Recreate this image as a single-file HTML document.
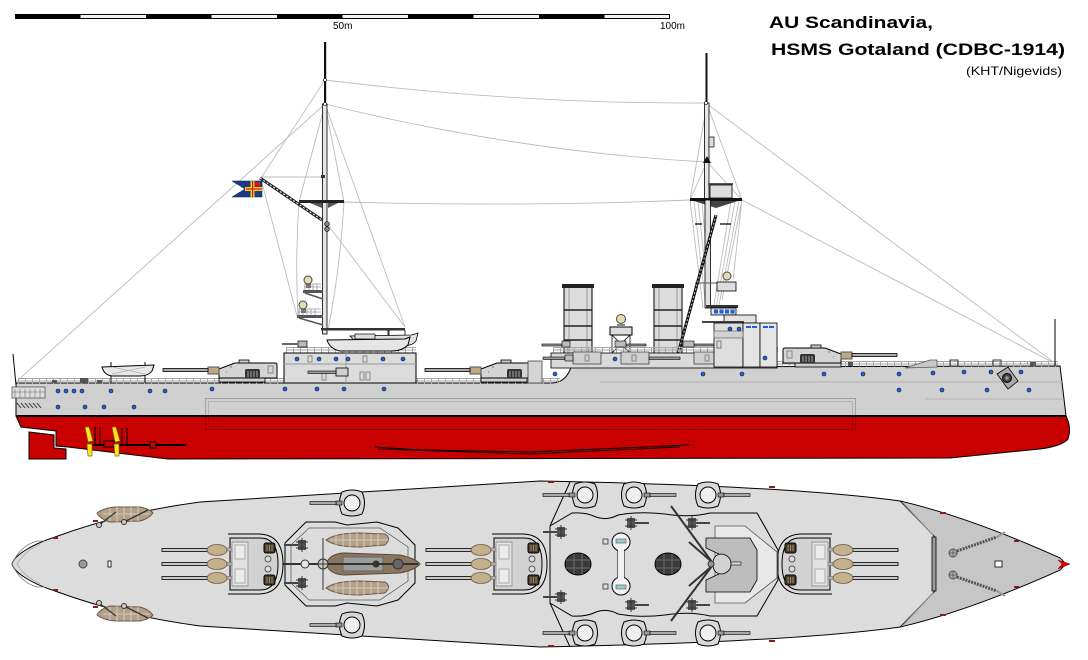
<!DOCTYPE html>
<html><head><meta charset="utf-8"><style>
html,body{margin:0;padding:0;background:#fff;}
svg{display:block}
</style></head><body>
<svg width="1088" height="660" viewBox="0 0 1088 660" xmlns="http://www.w3.org/2000/svg" font-family="'Liberation Sans', Arial, sans-serif">
<defs>
 <g id="tTop">
  <path d="M22,-30 L-8,-30 Q-33,-30 -33,0 Q-33,30 -8,30 L22,30" fill="#dcdcdc" stroke="#000"/>
  <path d="M20,-26 L-10,-26 Q-28,-26 -28,0 Q-28,26 -10,26 L20,26 Z" fill="#d2d2d2" stroke="#000"/>
  <rect x="2" y="-22" width="16" height="44" fill="#e2e2e2" stroke="#999"/>
  <rect x="5" y="-19" width="10" height="14" fill="#ececec" stroke="#aaa"/>
  <rect x="5" y="5" width="10" height="14" fill="#ececec" stroke="#aaa"/>
  <rect x="-25" y="-21" width="11" height="10" rx="2" fill="#4a3c2c" stroke="#000"/>
  <rect x="-25" y="11" width="11" height="10" rx="2" fill="#4a3c2c" stroke="#000"/>
  <path d="M-22,-19v6M-19.5,-19v6M-17,-19v6M-22,13v6M-19.5,13v6M-17,13v6" stroke="#a08a70"/>
  <circle cx="-18" cy="-5" r="3" fill="#ddd" stroke="#555"/>
  <circle cx="-18" cy="5" r="3" fill="#ddd" stroke="#555"/>
  <g fill="#b0b0b0" stroke="#777" stroke-width=".6">
   <rect x="18" y="-16" width="8" height="3"/><rect x="18" y="-1.5" width="8" height="3"/><rect x="18" y="12.5" width="8" height="3"/>
  </g>
  <g fill="#c9c9c9" stroke="#000" stroke-width=".8">
   <rect x="42" y="-15.5" width="46" height="3"/><rect x="42" y="-1.5" width="46" height="3"/><rect x="42" y="12.5" width="46" height="3"/>
  </g>
  <g fill="#c4b08c" stroke="#6a5a40" stroke-width=".8">
   <ellipse cx="33" cy="-14" rx="10" ry="5.5"/><ellipse cx="33" cy="0" rx="10" ry="5.5"/><ellipse cx="33" cy="14" rx="10" ry="5.5"/>
  </g>
 </g>
 <g id="tSide">
  <rect x="12" y="14" width="46" height="5" fill="#cfcfcf" stroke="#000" stroke-width=".8"/>
  <path d="M0,2 Q0,0 2,0 L42,0 L58,6 L58,15 L0,15 Z" fill="#d4d4d4" stroke="#000"/>
  <rect x="28" y="-3" width="10" height="3" fill="#ccc" stroke="#000" stroke-width=".8"/>
  <rect x="17" y="6" width="15" height="9" rx="2" fill="#333"/>
  <path d="M20,8v6M23,8v6M26,8v6M29,8v6" stroke="#aaa"/>
  <rect x="4" y="3" width="5" height="7" fill="none" stroke="#888"/>
  <path d="M45,4h2M50,9h1" stroke="#777"/>
  <rect x="58" y="4" width="11" height="7" fill="#bca884" stroke="#555"/>
  <rect x="69" y="5.5" width="45" height="3" fill="#aaa" stroke="#000" stroke-width=".8"/>
 </g>
 <g id="cm">
  <path d="M-10,-11 Q0,-15 10,-11 Q15,0 10,11 Q0,15 -10,11 Q-15,0 -10,-11Z" fill="#d8d8d8" stroke="#000"/>
  <circle r="8" fill="#efefef" stroke="#000"/>
  <rect x="10" y="-2" width="6" height="4" fill="#999" stroke="#000" stroke-width=".6"/>
  <rect x="16" y="-1.5" width="26" height="3" fill="#aaa" stroke="#000" stroke-width=".6"/>
 </g>
 <g id="aa">
  <rect x="-4" y="-5" width="8" height="10" fill="#555"/>
  <path d="M-6,-3h12M-6,3h12M0,-7v14" stroke="#333"/>
  <rect x="4" y="-1" width="14" height="2" fill="#444"/>
 </g>
 <g id="porth"><circle r="2" fill="#1f5fd8" stroke="#123" stroke-width=".6"/></g>
</defs>

<!-- Scale bar -->
<rect x="15" y="14" width="655" height="5" fill="#000"/>
<g fill="#f2f2f2">
 <rect x="80.5" y="15" width="65.5" height="3"/><rect x="211.5" y="15" width="65.5" height="3"/>
 <rect x="342.5" y="15" width="65.5" height="3"/><rect x="473.5" y="15" width="65.5" height="3"/>
 <rect x="604.5" y="15" width="64.5" height="3"/>
</g>
<text x="333" y="29" font-size="10" fill="#000">50m</text>
<text x="660" y="29" font-size="10" fill="#000">100m</text>

<!-- Title -->
<text x="769" y="28" font-size="17" font-weight="bold" textLength="164" lengthAdjust="spacingAndGlyphs">AU Scandinavia,</text>
<text x="771" y="55" font-size="17" font-weight="bold" textLength="294" lengthAdjust="spacingAndGlyphs">HSMS Gotaland (CDBC-1914)</text>
<text x="966" y="75" font-size="12" textLength="96" lengthAdjust="spacingAndGlyphs">(KHT/Nigevids)</text>

<!-- ================= SIDE VIEW ================= -->
<!-- rigging -->
<g stroke="#bcbcbc" stroke-width=".9" fill="none">
 <path d="M325,104 L16,382"/>
 <path d="M325,80 Q520,104 706,103"/>
 <path d="M325,104 Q520,152 706,162"/>
 <path d="M344,202 Q520,207 690,200"/>
 <path d="M707,104 L1052,361"/>
 <path d="M742,200 L1052,362"/>
 <path d="M325,104 L299,202 M325,104 L344,202"/>
 <path d="M299,202 Q295,260 298,316"/>
 <path d="M344,202 Q340,270 328,330"/>
 <path d="M325,80 L261,178"/>
 <path d="M261,179 L297,316"/>
 <path d="M325,104 L405,327"/>
 <path d="M328,225 L405,327"/>
 <path d="M262,177 L322,177"/>
 <path d="M707,104 L690,200 M707,104 L742,200 M707,162 L690,200 M707,162 L742,200"/>
 <path d="M690,200 L703,308 M694,201 L706,308 M698,201 L709,305 M702,201 L710,300 M742,200 L722,300 M739,201 L719,305 M735,201 L716,308 M731,201 L714,305 M742,200 L733,280"/>
</g>

<!-- funnels (behind) -->
<g>
 <rect x="564" y="286" width="28" height="70" fill="#dcdcdc" stroke="#000"/>
 <path d="M569,288V356M587,288V356" stroke="#9a9a9a"/>
 <rect x="562" y="284" width="32" height="4" fill="#222"/>
 <path d="M564,310H592M564,326H592M564,340H592" stroke="#222" stroke-width="1.5"/>
 <rect x="654" y="286" width="28" height="70" fill="#dcdcdc" stroke="#000"/>
 <path d="M659,288V356M677,288V356" stroke="#9a9a9a"/>
 <rect x="652" y="284" width="32" height="4" fill="#222"/>
 <path d="M654,310H682M654,326H682M654,340H682" stroke="#222" stroke-width="1.5"/>
</g>

<!-- searchlight tower between funnels -->
<g>
 <path d="M612,335 L630,353 M630,335 L612,353 M612,335V353M630,335V353" stroke="#333"/>
 <rect x="610" y="327" width="22" height="8" fill="#ddd" stroke="#000"/>
 <rect x="617" y="324" width="8" height="3" fill="#888"/>
 <circle cx="621" cy="319" r="4.5" fill="#e2dcb0" stroke="#444"/>
</g>

<!-- foremast -->
<g>
 <rect x="705.5" y="53" width="2" height="50" fill="#111"/>
 <rect x="704.5" y="103" width="4.5" height="96" fill="#e6e6e6" stroke="#000" stroke-width=".8"/>
 <rect x="709" y="137" width="5" height="10" fill="#ddd" stroke="#000" stroke-width=".7"/>
 <path d="M703,163 L707,156 L711,163Z" fill="#111"/>
 <circle cx="706" cy="103" r="1.5" fill="#fff" stroke="#000" stroke-width=".6"/>
 <rect x="708" y="183" width="25" height="2" fill="#555"/>
 <rect x="710" y="185" width="22" height="13" fill="#dedede" stroke="#000" stroke-width=".8"/>
 <rect x="690" y="198" width="52" height="3" fill="#111"/>
 <path d="M694,201 L738,201 L716,208Z" fill="#444"/>
 <rect x="705" y="200" width="5.5" height="108" fill="#e0e0e0" stroke="#000" stroke-width=".8"/>
 <path d="M695,224H702M720,224H731" stroke="#000" stroke-width="1.2"/>
 <path d="M695,283H717" stroke="#555"/>
 <rect x="717" y="282" width="19" height="9" fill="#ddd" stroke="#000" stroke-width=".8"/>
 <circle cx="727" cy="276" r="4" fill="#e2dcb0" stroke="#444"/>
 <!-- tripod leg -->
 <path d="M716,215 L670,383" stroke="#111" stroke-width="3"/>
 <path d="M716,215 L670,383" stroke="#ccc" stroke-width="1" stroke-dasharray="2 2"/>
</g>

<!-- mainmast -->
<g>
 <rect x="324" y="42" width="2.2" height="62" fill="#111"/>
 <rect x="322.5" y="104" width="4.5" height="230" fill="#e6e6e6" stroke="#000" stroke-width=".8"/>
 <circle cx="325" cy="80" r="1.5" fill="#fff" stroke="#000" stroke-width=".6"/>
 <circle cx="325" cy="104" r="1.5" fill="#fff" stroke="#000" stroke-width=".6"/>
 <rect x="321" y="175" width="4" height="3" fill="#333"/>
 <rect x="299" y="200" width="45" height="3" fill="#222"/>
 <path d="M310,203 L322,203 L322,208Z M328,203 L338,203 L328,208Z" fill="#555"/>
 <!-- gaff -->
 <path d="M260,178 L322,220" stroke="#222" stroke-width="3"/>
 <path d="M260,178 L322,220" stroke="#fff" stroke-width="1" stroke-dasharray="2 2"/>
 <circle cx="327" cy="224" r="2.3" fill="#888" stroke="#000" stroke-width=".7"/>
 <circle cx="327" cy="229" r="2.3" fill="#888" stroke="#000" stroke-width=".7"/>
 <!-- flag -->
 <path d="M262,181 L232,181 L245,189 L232,197 L262,197Z" fill="#1c3a86" stroke="#0a1a4a" stroke-width=".5"/>
 <rect x="250.5" y="181" width="4" height="16" fill="#f3d21a"/>
 <rect x="245" y="187" width="17" height="4" fill="#f3d21a"/>
 <rect x="252" y="181" width="1.2" height="16" fill="#d8141a"/>
 <rect x="246" y="188.4" width="16" height="1.2" fill="#d8141a"/>
 <rect x="255" y="182" width="5" height="4.5" fill="#d8141a"/>
 <!-- searchlight platforms -->
 <g stroke="#999" stroke-width=".8" fill="none">
  <path d="M304,284H321M304,287H321M305,284v6M309,284v6M313,284v6M317,284v6"/>
  <path d="M298,309H321M298,312H321M299,309v6M303,309v6M307,309v6M311,309v6M315,309v6"/>
 </g>
 <rect x="303" y="290" width="20" height="3" fill="#555"/>
 <path d="M305,293 L323,299" stroke="#555" stroke-width="1.5"/>
 <rect x="297" y="315" width="26" height="3" fill="#555"/>
 <path d="M299,318 L323,325" stroke="#555" stroke-width="1.5"/>
 <rect x="306" y="284" width="5" height="4" fill="#777"/>
 <circle cx="308" cy="280" r="4" fill="#e2dcb0" stroke="#444"/>
 <rect x="301" y="309" width="5" height="4" fill="#777"/>
 <circle cx="303" cy="305" r="4" fill="#e2dcb0" stroke="#444"/>
 <!-- boom -->
 <rect x="321" y="328" width="84" height="2.5" fill="#333"/>
 <rect x="387.5" y="330" width="2" height="8" fill="#333"/>
 <path d="M405,330 v6" stroke="#333"/>
</g>

<!-- hull side -->
<path d="M16,383 L551,383 Q566,383 571,367 L1060,366 Q1063,390 1066,416 L16,416 Z" fill="#d0d0d0" stroke="#000"/>
<path d="M600,382H1062M925,399H1062" stroke="#b4b4b4"/>
<!-- red underbody -->
<path d="M16,416 L1066,416 Q1072,428 1068,439 Q1062,446 1040,449 L950,458 L168,459 L68,447 L56,446 L56,431 L21,427 Z" fill="#c80000" stroke="#000"/>
<path d="M29,432 L54,435 L54,448 L66,449 L66,459 L29,459 Z" fill="#c80000" stroke="#000"/>
<path d="M16,416 H1066" stroke="#000" stroke-width="2"/>
<!-- belt outline -->
<rect x="205.5" y="398.5" width="650" height="31" fill="none" stroke="#000" stroke-opacity=".22"/>
<rect x="208.5" y="401.5" width="644" height="25" fill="none" stroke="#000" stroke-opacity=".14"/>
<!-- bilge keel -->
<path d="M375,447 L420,450 L530,452 L690,445 M378,449 L530,454 L680,447" stroke="#000" fill="none" stroke-width=".9"/>
<!-- shafts & props -->
<g stroke="#000" fill="none">
 <path d="M92,445 H186" stroke-width="2"/>
 <path d="M95,427 V445 M100,427 V445 M122,428 V445 M127,428 V445" stroke-width="1"/>
 <rect x="104" y="441" width="10" height="6" fill="#c80000"/>
 <rect x="150" y="442" width="6" height="6" fill="#c80000"/>
</g>
<g fill="#ffe61a" stroke="#7a6a00" stroke-width=".7">
 <path d="M85,427 L89,427 L93,441 L88,442 Z M87,444 L92,444 L92,456 L88,456 Z"/>
 <path d="M112,427 L116,427 L120,441 L115,442 Z M114,444 L119,444 L119,456 L115,456 Z"/>
</g>

<!-- stern gallery & staff -->
<path d="M13,354 L16,385" stroke="#000"/>
<rect x="12" y="387" width="33" height="11" fill="#dedede" stroke="#555" stroke-width=".8"/>
<path d="M15,389V398M20,389V398M25,389V398M30,389V398M35,389V398M40,389V398M12,392H45" stroke="#888" stroke-width=".8"/>
<path d="M17,403l4,5M21,403l4,5M25,403l4,5M29,403l4,5M33,403l4,5M37,403l4,5" stroke="#333"/>

<!-- railings -->
<g stroke="#a6a6a6" fill="none">
 <path d="M18,378.5H560M18,381H560"/>
 <path d="M18,381H560" stroke-width="5" stroke-dasharray="1 6"/>
 <path d="M572,361.5H1058M572,364H1058"/>
 <path d="M572,364H1058" stroke-width="5" stroke-dasharray="1 6"/>
 <path d="M286,347.5H416M286,350H416"/>
 <path d="M286,350H416" stroke-width="5" stroke-dasharray="1 6"/>
 <path d="M553,347.5H778M553,350H778"/>
 <path d="M553,350H778" stroke-width="5" stroke-dasharray="1 6"/>
</g>

<!-- small fittings on decks -->
<g fill="#555">
 <rect x="80" y="378" width="8" height="5"/><rect x="52" y="380" width="5" height="3"/><rect x="97" y="380" width="5" height="3"/>
 <rect x="950" y="360" width="8" height="6" fill="none" stroke="#333"/><rect x="993" y="360" width="8" height="6" fill="none" stroke="#333"/>
 <rect x="848" y="362" width="5" height="4"/><rect x="1030" y="362" width="6" height="4"/>
</g>
<path d="M905,368 L930,360 L937,360 L937,367Z" fill="#c8c8c8" stroke="#555" stroke-width=".8"/>

<!-- aft boat -->
<path d="M111,362V383M145,362V383" stroke="#333" stroke-width="1.2"/>
<path d="M102,367 L154,365 L152,371 Q148,376 140,376 L112,376 Q104,375 102,367 Z" fill="#e8e8e8" stroke="#000"/>
<path d="M112,367 L145,374 M112,374 L145,367" stroke="#aaa" stroke-width=".7"/>

<!-- turrets side -->
<use href="#tSide" transform="translate(277,363) scale(-1,1)"/>
<use href="#tSide" transform="translate(539,363) scale(-1,1)"/>
<use href="#tSide" transform="translate(783,348)"/>

<!-- aft superstructure -->
<rect x="284" y="353" width="132" height="30" fill="#dcdcdc" stroke="#000"/>
<path d="M284,364H416M346,353V383" stroke="#999"/>
<g fill="none" stroke="#777" stroke-width=".8">
 <rect x="308" y="356" width="4" height="6"/><rect x="363" y="356" width="4" height="6"/>
 <rect x="322" y="372" width="4" height="8"/><rect x="360" y="372" width="4" height="8"/><rect x="366" y="372" width="4" height="8"/>
</g>
<rect x="336" y="368" width="12" height="8" fill="#d0d0d0" stroke="#000" stroke-width=".8"/>
<rect x="308" y="371" width="28" height="2.5" fill="#999" stroke="#000" stroke-width=".6"/>
<rect x="298" y="341" width="9" height="6" fill="#bbb" stroke="#000" stroke-width=".7"/>
<rect x="282" y="343" width="16" height="2" fill="#666"/>
<!-- boats on aft superstructure -->
<path d="M350,336 L412,335 L418,333 L416,341 Q412,346 402,346 L360,346 Z" fill="#e2e2e2" stroke="#000" stroke-width=".8"/>
<path d="M327,340 L405,339 L410,337 L408,345 Q402,351 392,351 L340,351 Q330,349 327,340 Z" fill="#e6e6e6" stroke="#000"/>
<rect x="355" y="334" width="20" height="5" fill="#ddd" stroke="#000" stroke-width=".7"/>

<!-- midship deckhouse -->
<rect x="528" y="361" width="14" height="22" fill="#d4d4d4" stroke="#444" stroke-width=".8"/>
<rect x="551" y="353" width="226" height="15" fill="#dadada" stroke="#000" stroke-width=".8"/>
<g fill="#d0d0d0" stroke="#444" stroke-width=".8">
 <rect x="573" y="352" width="28" height="12"/><rect x="621" y="352" width="28" height="12"/><rect x="694" y="352" width="28" height="12"/>
</g>
<g fill="none" stroke="#777" stroke-width=".8">
 <rect x="585" y="355" width="4" height="6"/><rect x="632" y="355" width="4" height="6"/><rect x="705" y="355" width="4" height="6"/><rect x="760" y="356" width="4" height="7"/>
</g>
<g fill="#999" stroke="#000" stroke-width=".6">
 <rect x="543" y="357" width="22" height="2.5"/><rect x="565" y="355" width="8" height="6" fill="#bbb"/>
 <rect x="649" y="357" width="31" height="2.5"/>
 <rect x="722" y="357" width="30" height="2.5"/>
 <rect x="542" y="344" width="20" height="2"/><rect x="562" y="341" width="8" height="6" fill="#bbb"/>
 <rect x="626" y="344" width="20" height="2"/><rect x="615" y="341" width="11" height="6" fill="#bbb"/>
 <rect x="694" y="344" width="20" height="2"/><rect x="683" y="341" width="11" height="6" fill="#bbb"/>
</g>

<!-- bridge -->
<rect x="706" y="305" width="32" height="3" fill="#333"/>
<rect x="711" y="308" width="25" height="7" fill="#e2e2e2" stroke="#000" stroke-width=".8"/>
<g fill="#1f5fd8"><rect x="714" y="309.5" width="4" height="4"/><rect x="719.5" y="309.5" width="4" height="4"/><rect x="725" y="309.5" width="4" height="4"/><rect x="730.5" y="309.5" width="4" height="4"/></g>
<rect x="724" y="315" width="32" height="8" fill="#e2e2e2" stroke="#000" stroke-width=".8"/>
<rect x="702" y="321" width="42" height="2" fill="#444"/>
<rect x="714" y="323" width="29" height="44" fill="#dedede" stroke="#000" stroke-width=".8"/>
<rect x="743" y="323" width="17" height="44" fill="#e4e4e4" stroke="#000" stroke-width=".8"/>
<rect x="760" y="323" width="17" height="44" fill="#e4e4e4" stroke="#000" stroke-width=".8"/>
<g fill="#1f5fd8"><rect x="746" y="326" width="5" height="2"/><rect x="752" y="326" width="5" height="2"/><rect x="763" y="326" width="5" height="2"/><rect x="769" y="326" width="5" height="2"/></g>
<rect x="714" y="331" width="29" height="7" fill="#d2d2d2" stroke="#666" stroke-width=".7"/>
<rect x="717" y="341" width="4" height="7" fill="none" stroke="#777"/>

<!-- portholes -->
<g>
 <use href="#porth" x="58" y="391"/><use href="#porth" x="66" y="391"/><use href="#porth" x="74" y="391"/><use href="#porth" x="82" y="391"/>
 <use href="#porth" x="111" y="391"/><use href="#porth" x="150" y="391"/><use href="#porth" x="165" y="391"/><use href="#porth" x="212" y="389"/>
 <use href="#porth" x="285" y="389"/><use href="#porth" x="317" y="389"/><use href="#porth" x="344" y="389"/><use href="#porth" x="384" y="389"/>
 <use href="#porth" x="58" y="407"/><use href="#porth" x="85" y="407"/><use href="#porth" x="104" y="407"/><use href="#porth" x="134" y="407"/>
 <use href="#porth" x="555" y="374"/><use href="#porth" x="703" y="374"/><use href="#porth" x="742" y="374"/><use href="#porth" x="824" y="374"/>
 <use href="#porth" x="863" y="374"/><use href="#porth" x="899" y="374"/><use href="#porth" x="933" y="373"/><use href="#porth" x="964" y="372"/>
 <use href="#porth" x="991" y="372"/><use href="#porth" x="1021" y="372"/>
 <use href="#porth" x="899" y="390"/><use href="#porth" x="942" y="390"/><use href="#porth" x="987" y="390"/><use href="#porth" x="1029" y="390"/>
 <use href="#porth" x="297" y="359"/><use href="#porth" x="319" y="359"/><use href="#porth" x="336" y="359"/><use href="#porth" x="348" y="359"/>
 <use href="#porth" x="383" y="359"/><use href="#porth" x="403" y="359"/>
 <use href="#porth" x="615" y="359"/><use href="#porth" x="765" y="358"/><use href="#porth" x="730" y="329"/><use href="#porth" x="739" y="329"/>
</g>
<!-- anchor hawse side -->
<path d="M997,374 L1008,367 L1018,381 L1008,389 Z" fill="#aaa" stroke="#000" stroke-width=".8"/>
<circle cx="1007" cy="378" r="4.5" fill="#444" stroke="#000"/>
<circle cx="1007" cy="378" r="1.8" fill="#999"/>
<!-- jackstaff -->
<path d="M1055,319 V366" stroke="#000"/>

<!-- ================= TOP VIEW ================= -->
<path d="M12,564 C14,556 30,545 55,537 C90,524 140,510 200,502 L540,481 C700,484 820,490 900,501 C960,515 1020,540 1060,558 L1066,564 L1060,570 C1020,588 960,613 900,627 C820,638 700,644 540,647 L200,626 C140,618 90,604 55,591 C30,583 14,572 12,564 Z" fill="#dcdcdc" stroke="#000"/>
<!-- stern walk -->
<path d="M12,564 Q20,546 37,541 L45,541 M12,564 Q20,582 37,587 L45,587" fill="none" stroke="#777" stroke-width=".8"/>
<path d="M17,564 Q24,552 40,544 M17,564 Q24,576 40,584" fill="none" stroke="#aaa" stroke-width=".8"/>
<!-- bow dark region -->
<path d="M900,501 L935,537 L935,591 L900,627 C960,613 1020,588 1060,570 L1066,564 L1060,558 C1020,540 960,515 900,501 Z" fill="#c6c6c6" stroke="#000" stroke-width=".8"/>
<rect x="932" y="537" width="4" height="54" fill="#9a9a9a" stroke="#000" stroke-width=".8"/>
<path d="M903,503 L933,535 M903,625 L933,593" stroke="#888"/>
<!-- anchors -->
<path d="M957,551 L997,537 M957,577 L997,591" stroke="#555" stroke-width="3" stroke-dasharray="2 1"/>
<path d="M997,537 L1005,532 M997,591 L1005,596" stroke="#999" stroke-width="2"/>
<circle cx="953" cy="553" r="4" fill="#aaa" stroke="#555"/>
<circle cx="953" cy="575" r="4" fill="#aaa" stroke="#555"/>
<path d="M949,553h8M953,549v8M949,575h8M953,571v8" stroke="#555" stroke-width=".7"/>
<rect x="995" y="561" width="7" height="6" fill="#fff" stroke="#000" stroke-width=".8"/>
<path d="M1058,560 L1070,564 L1058,569 L1062,564Z" fill="#e00000" stroke="#800" stroke-width=".5"/>
<!-- fairleads -->
<g fill="#8a1a1a">
 <rect x="53" y="537" width="5" height="2"/><rect x="93" y="520" width="5" height="2"/><rect x="53" y="589" width="5" height="2"/><rect x="93" y="606" width="5" height="2"/>
 <rect x="548" y="481" width="6" height="2"/><rect x="769" y="486" width="6" height="2"/><rect x="940" y="512" width="6" height="2"/><rect x="1014" y="540" width="5" height="2"/>
 <rect x="1014" y="586" width="5" height="2"/><rect x="940" y="614" width="6" height="2"/><rect x="769" y="640" width="6" height="2"/><rect x="548" y="645" width="6" height="2"/>
</g>
<!-- stern items -->
<circle cx="83" cy="564" r="4" fill="#999" stroke="#444"/>
<rect x="108" y="561" width="3" height="6" fill="#fff" stroke="#000" stroke-width=".8"/>
<g>
 <path d="M97,513 Q105,507 118,507 L140,507 Q150,509 153,513 Q148,519 140,521 L110,522 Q100,519 97,513Z" fill="#b4a08a" stroke="#6a5a4a"/>
 <path d="M110,508V521M117,507V522M124,507V522M131,507V522M138,507V521M103,514H150" stroke="#d8ccb8" stroke-width="1"/>
 <path d="M99,525 L116,512 M124,522 L148,510" stroke="#333" stroke-width="1.3"/>
 <circle cx="99" cy="525" r="2.5" fill="#ccc" stroke="#333"/><circle cx="124" cy="522" r="2.5" fill="#ccc" stroke="#333"/>
 <path d="M97,615 Q105,621 118,621 L140,621 Q150,619 153,615 Q148,609 140,607 L110,606 Q100,609 97,615Z" fill="#b4a08a" stroke="#6a5a4a"/>
 <path d="M110,607V620M117,606V621M124,606V621M131,606V621M138,607V620M103,614H150" stroke="#d8ccb8" stroke-width="1"/>
 <path d="M99,603 L116,616 M124,606 L148,618" stroke="#333" stroke-width="1.3"/>
 <circle cx="99" cy="603" r="2.5" fill="#ccc" stroke="#333"/><circle cx="124" cy="606" r="2.5" fill="#ccc" stroke="#333"/>
</g>

<!-- aft superstructure top -->
<path d="M306,522 L335,522 L347,525 L377,522 L398,528 L415,545 L415,583 L398,600 L377,606 L347,603 L335,606 L306,606 L285,585 L285,543 Z" fill="#dcdcdc" stroke="#000"/>
<path d="M309,528 L380,528 L408,547 L408,581 L380,600 L309,600 L291,583 L291,545 Z" fill="none" stroke="#555" stroke-width=".7"/>
<path d="M326,540 Q335,533 360,533 L385,534 Q392,538 385,545 L360,547 Q335,547 326,540 Z" fill="#b4a08a" stroke="#6a5a4a"/>
<path d="M336,534V546M343,533V547M350,533V547M357,533V547M364,533V547M371,534V546M378,534V546M330,540H388" stroke="#d8ccb8"/>
<path d="M326,588 Q335,581 360,581 L385,582 Q392,586 385,593 L360,595 Q335,595 326,588 Z" fill="#b4a08a" stroke="#6a5a4a"/>
<path d="M336,582V594M343,581V595M350,581V595M357,581V595M364,581V595M371,582V594M378,582V594M330,588H388" stroke="#d8ccb8"/>
<path d="M326,564 Q330,553 345,553 L400,555 Q415,558 420,564 Q415,570 400,573 L345,575 Q330,575 326,564Z" fill="#8a7560" stroke="#5a4a3a"/>
<rect x="343" y="557" width="40" height="14" fill="#9c9c9c" stroke="#666"/>
<path d="M259,564 H418" stroke="#333" stroke-width="2"/>
<path d="M323,538 V590" stroke="#333"/>
<circle cx="376" cy="564" r="3.5" fill="#333"/>
<circle cx="398" cy="564" r="5" fill="#666" stroke="#333"/>
<circle cx="323" cy="564" r="5" fill="#ccc" stroke="#333"/>
<path d="M318,564h10M323,559v10" stroke="#333"/>
<circle cx="305" cy="564" r="4" fill="#e6e6e6" stroke="#333"/>
<use href="#aa" transform="translate(302,545) scale(-1,1)"/>
<use href="#aa" transform="translate(302,583) scale(-1,1)"/>

<!-- turrets top -->
<use href="#tTop" transform="translate(250,564) scale(-1,1)"/>
<use href="#tTop" transform="translate(514,564) scale(-1,1)"/>
<use href="#tTop" transform="translate(810,564)"/>

<!-- casemates top -->
<use href="#cm" transform="translate(352,503) scale(-1,1)"/>
<use href="#cm" transform="translate(352,625) scale(-1,1)"/>

<!-- midship structure top -->
<path d="M570,482 L550,526 M550,603 L570,647" stroke="#000"/>
<path d="M550,526 L572,513 Q586,512 596,517 Q607,521 618,515 Q640,511 665,514 Q690,518 710,513 L757,513 L778,550 L778,580 L757,616 L710,616 Q690,611 665,615 Q640,618 618,614 Q607,608 596,612 Q586,617 572,616 L550,603 Z" fill="#dcdcdc" stroke="#000"/>
<use href="#cm" transform="translate(585,495) scale(-1,1)"/>
<use href="#cm" transform="translate(634,495)"/>
<use href="#cm" transform="translate(708,495)"/>
<use href="#cm" transform="translate(585,633) scale(-1,1)"/>
<use href="#cm" transform="translate(634,633)"/>
<use href="#cm" transform="translate(708,633)"/>
<!-- funnels top -->
<ellipse cx="578" cy="564" rx="13" ry="11" fill="#3a3a3a" stroke="#000"/>
<path d="M566,560H590M566,568H590M574,554V574M582,554V574" stroke="#6a6a6a"/>
<ellipse cx="668" cy="564" rx="13" ry="11" fill="#3a3a3a" stroke="#000"/>
<path d="M656,560H680M656,568H680M664,554V574M672,554V574" stroke="#6a6a6a"/>
<!-- searchlight tower top -->
<path d="M618,548 L618,580 L624,580 L624,548 Z" fill="#f2f2f2" stroke="#000"/>
<circle cx="621" cy="542" r="9" fill="#f2f2f2" stroke="#000"/>
<circle cx="621" cy="586" r="9" fill="#f2f2f2" stroke="#000"/>
<rect x="618" y="548" width="6" height="32" fill="#f2f2f2"/>
<rect x="616" y="539" width="10" height="4" fill="#9cc" stroke="#555" stroke-width=".6"/>
<rect x="616" y="585" width="10" height="4" fill="#9cc" stroke="#555" stroke-width=".6"/>
<rect x="603" y="539" width="5" height="5" fill="none" stroke="#333" stroke-width=".8"/>
<rect x="603" y="584" width="5" height="5" fill="none" stroke="#333" stroke-width=".8"/>
<!-- AA -->
<use href="#aa" transform="translate(631,523)"/><use href="#aa" transform="translate(692,523)"/>
<use href="#aa" transform="translate(631,605)"/><use href="#aa" transform="translate(692,605)"/>
<use href="#aa" transform="translate(561,532) scale(-1,1)"/><use href="#aa" transform="translate(561,597) scale(-1,1)"/>
<!-- bridge top -->
<path d="M715,526 L745,526 L777,552 L777,578 L745,603 L715,603 Z" fill="#e8e8e8" stroke="#555" stroke-width=".8"/>
<path d="M706,538 L750,538 L757,550 L757,580 L750,592 L706,592 L706,580 L719,574 L719,554 L706,548 Z" fill="#bdbdbd" stroke="#000" stroke-width=".8"/>
<path d="M713,564 Q713,554 722,554 Q731,556 731,564 Q731,572 722,574 Q713,574 713,564Z" fill="#d2d2d2" stroke="#000" stroke-width=".8"/>
<rect x="731" y="562" width="10" height="3" fill="#ddd" stroke="#000" stroke-width=".6"/>
<!-- derricks -->
<path d="M671,506 L712,562 M671,621 L712,566 M689,542 L712,562 M689,586 L712,566" stroke="#333" stroke-width="2"/>
<circle cx="711" cy="564" r="3" fill="#999" stroke="#333"/>
</svg>
</body></html>
